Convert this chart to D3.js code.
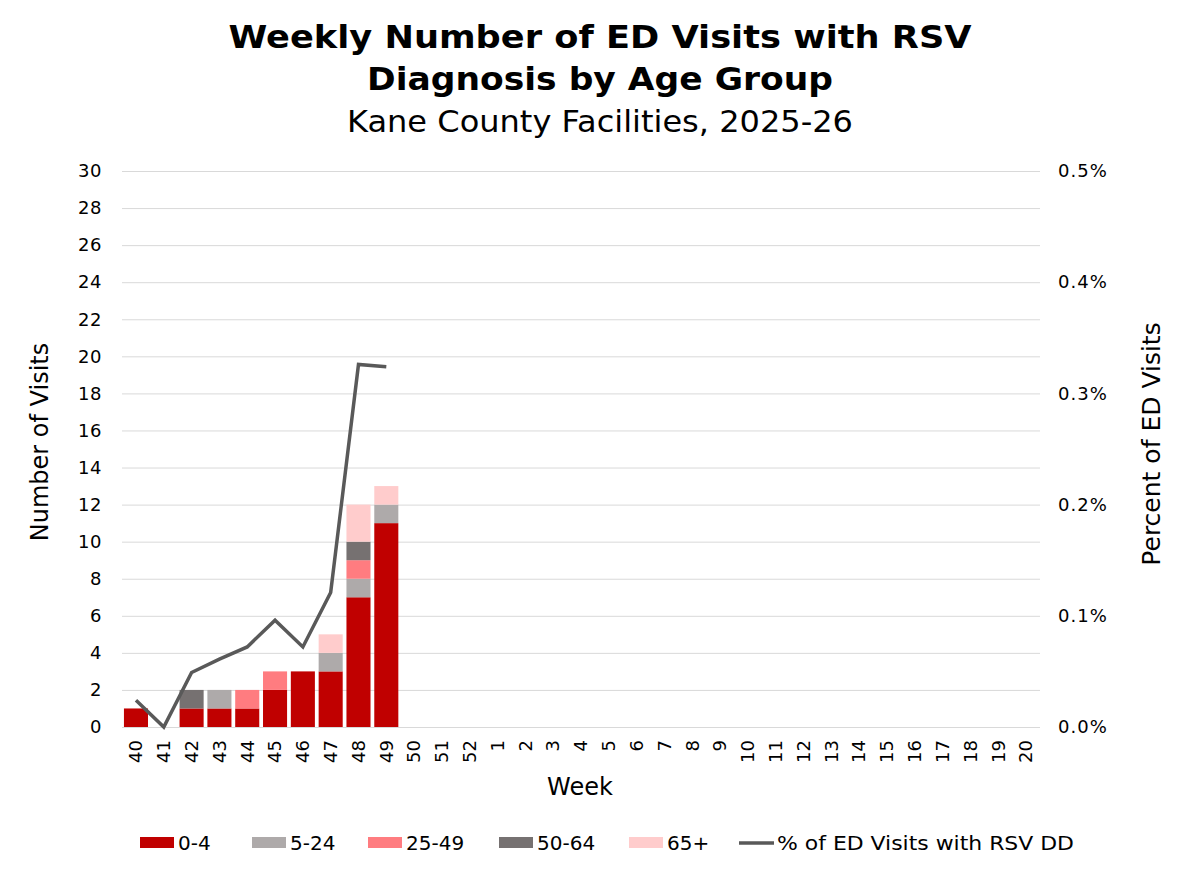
<!DOCTYPE html>
<html><head><meta charset="utf-8">
<script src="https://cdn.jsdelivr.net/npm/d3@7"></script>
<style>body{margin:0;background:#fff}svg{display:block}text{font-family:"DejaVu Sans",Verdana,sans-serif}</style>
</head><body>
<svg id="c" width="1200" height="872"></svg>
<script>
const weeks = ["40","41","42","43","44","45","46","47","48","49","50","51","52","1","2","3","4","5","6","7","8","9","10","11","12","13","14","15","16","17","18","19","20"];
const age0_4   = [1,0,1,1,1,2,3,3,7,11];
const age5_24  = [0,0,0,1,0,0,0,1,1,1];
const age25_49 = [0,0,0,0,1,1,0,0,1,0];
const age50_64 = [0,0,1,0,0,0,0,0,1,0];
const age65p   = [0,0,0,0,0,0,0,1,2,1];
const pctRSV   = [0.024,0.0,0.049,0.061,0.072,0.096,0.072,0.121,0.326,0.324];
const seriesNames = ["0-4","5-24","25-49","50-64","65+"];
const seriesColors = ["#C00000","#AEAAAA","#FF7C80","#767171","#FFCCCC"];
const leftTicks = d3.range(0,31,2);
const rightTicks = [0,0.1,0.2,0.3,0.4,0.5];

const svg = d3.select("#c");
const L=122, R=1040, T=171, B=727;
const x = d3.scaleBand().domain(weeks).range([L,R]).paddingInner(0.135).paddingOuter(0.07);
const y = d3.scaleLinear().domain([0,30]).range([B,T]);
const y2 = d3.scaleLinear().domain([0,0.5]).range([B,T]);

// gridlines
svg.append("g").selectAll("line").data(leftTicks).join("line")
  .attr("x1",L).attr("x2",R).attr("y1",d=>y(d)+0.5).attr("y2",d=>y(d)+0.5)
  .attr("stroke","#D9D9D9").attr("stroke-width",1);

// left axis
const ya = svg.append("g").attr("transform",`translate(${L},0)`).call(d3.axisLeft(y).tickValues(leftTicks).tickSize(0).tickPadding(20));
ya.select(".domain").remove();
ya.selectAll("text").attr("font-size",18).attr("fill","#000").attr("font-family","DejaVu Sans").attr("letter-spacing",0.5);
// right axis
const yb = svg.append("g").attr("transform",`translate(${R},0)`).call(d3.axisRight(y2).tickValues(rightTicks).tickSize(0).tickPadding(18).tickFormat(d=>d.toFixed(1)+"%"));
yb.select(".domain").remove();
yb.selectAll("text").attr("font-size",18).attr("fill","#000").attr("font-family","DejaVu Sans").attr("letter-spacing",1);
// x axis
const xa = svg.append("g").attr("transform",`translate(0,${B})`).call(d3.axisBottom(x).tickSize(0).tickPadding(0));
xa.select(".domain").remove();
xa.selectAll("text").attr("font-size",18).attr("fill","#000").attr("font-family","DejaVu Sans")
  .attr("transform","rotate(-90)").attr("text-anchor","end").attr("dy","0.35em").attr("x",-13).attr("y",0);

// stacked bars
const rows = age0_4.map((v,i)=>({week:weeks[i],"0-4":v,"5-24":age5_24[i],"25-49":age25_49[i],"50-64":age50_64[i],"65+":age65p[i]}));
const stack = d3.stack().keys(seriesNames)(rows);
svg.append("g").selectAll("g").data(stack).join("g").attr("fill",(d,i)=>seriesColors[i])
  .selectAll("rect").data(d=>d.filter(s=>s[1]-s[0]>0)).join("rect")
  .attr("x",d=>x(d.data.week)).attr("width",x.bandwidth())
  .attr("y",d=>y(d[1])).attr("height",d=>y(d[0])-y(d[1]));

// line
const line = d3.line().x((d,i)=>x(weeks[i])+x.bandwidth()/2).y(d=>y2(d));
svg.append("path").datum(pctRSV).attr("d",line).attr("fill","none")
  .attr("stroke","#595959").attr("stroke-width",3.5).attr("stroke-linejoin","miter");

// titles
svg.append("text").attr("x",600).attr("y",48).attr("text-anchor","middle").attr("font-weight","bold").attr("font-size",32)
  .attr("textLength",743).attr("lengthAdjust","spacingAndGlyphs").text("Weekly Number of ED Visits with RSV");
svg.append("text").attr("x",600).attr("y",90).attr("text-anchor","middle").attr("font-weight","bold").attr("font-size",32)
  .attr("textLength",466).attr("lengthAdjust","spacingAndGlyphs").text("Diagnosis by Age Group");
svg.append("text").attr("x",600).attr("y",132).attr("text-anchor","middle").attr("font-size",30)
  .attr("textLength",506).attr("lengthAdjust","spacingAndGlyphs").text("Kane County Facilities, 2025-26");

svg.append("text").attr("transform","translate(48,442) rotate(-90)").attr("text-anchor","middle").attr("font-size",24)
  .attr("font-family","Open Sans").text("Number of Visits");
svg.append("text").attr("transform","translate(1160,444) rotate(-90)").attr("text-anchor","middle").attr("font-size",25)
  .attr("font-family","Open Sans").text("Percent of ED Visits");
svg.append("text").attr("x",580).attr("y",795).attr("text-anchor","middle").attr("font-size",24)
  .attr("font-family","Open Sans").text("Week");

// legend
const legX = [140,252,368,499,629];
const lg = svg.append("g");
seriesNames.forEach((n,i)=>{
  lg.append("rect").attr("x",legX[i]).attr("y",837).attr("width",34).attr("height",11).attr("fill",seriesColors[i]);
  lg.append("text").attr("x",legX[i]+38).attr("y",850).attr("font-size",20).attr("font-family","DejaVu Sans").text(n);
});
lg.append("line").attr("x1",739).attr("x2",774).attr("y1",843).attr("y2",843).attr("stroke","#595959").attr("stroke-width",3.5);
lg.append("text").attr("x",777).attr("y",850).attr("font-size",20).attr("font-family","DejaVu Sans")
  .attr("textLength",297).attr("lengthAdjust","spacingAndGlyphs").text("% of ED Visits with RSV DD");
</script>
</body></html>
